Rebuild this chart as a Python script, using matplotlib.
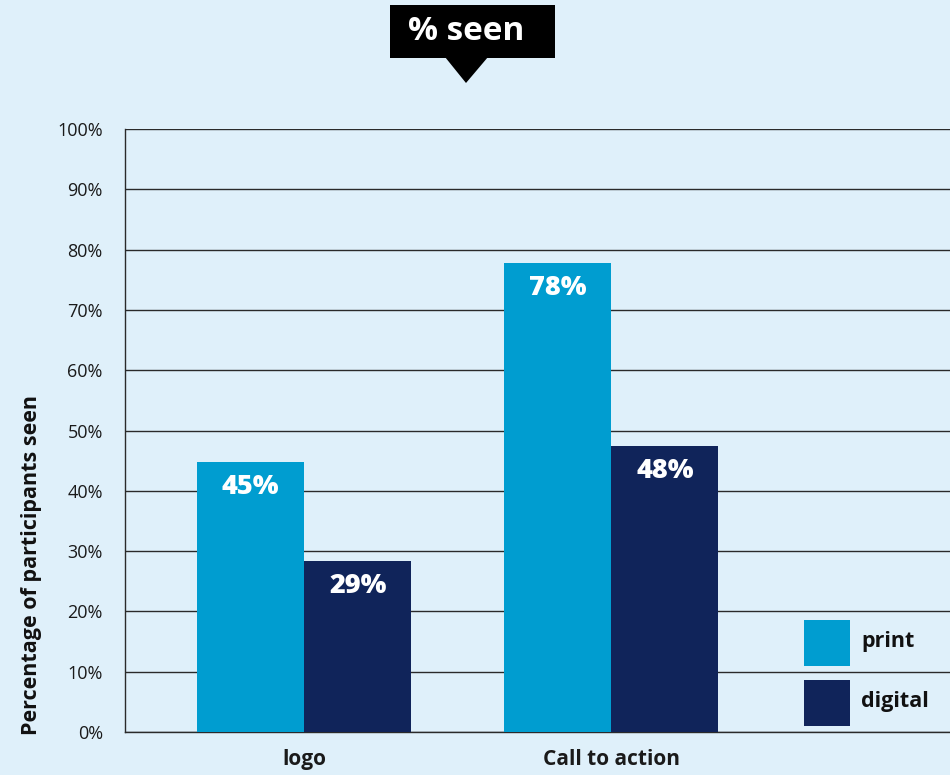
import matplotlib
matplotlib.use("Agg")
import matplotlib.pyplot as plt
from matplotlib.patches import Rectangle, Polygon
import numpy as np

categories = ["logo", "Call to action"]
series_names = ["print", "digital"]
print_vals = [44.8, 77.8]
digital_vals = [28.3, 47.5]
print_labels = ["45%", "78%"]
digital_labels = ["29%", "48%"]
yticks = [0, 10, 20, 30, 40, 50, 60, 70, 80, 90, 100]
ytick_labels = ["0%", "10%", "20%", "30%", "40%", "50%", "60%", "70%", "80%", "90%", "100%"]
title = "% seen"
ylabel = "Percentage of participants seen"

BG = "#dff0fa"
C_PRINT = "#009dd0"
C_DIGITAL = "#10245a"
FONT = ["Open Sans", "DejaVu Sans"]
plt.rcParams["font.family"] = FONT

W, H = 950, 775
fig = plt.figure(figsize=(W / 100, H / 100), dpi=100, facecolor=BG)
ax = fig.add_axes([125 / W, 43 / H, 1 - 125 / W, (732 - 129) / H])
ax.set_facecolor(BG)

x = np.arange(len(categories))
bw = 0.35
b1 = ax.bar(x - bw / 2, print_vals, bw, color=C_PRINT, zorder=3)
b2 = ax.bar(x + bw / 2, digital_vals, bw, color=C_DIGITAL, zorder=3)

for bars, labels in ((b1, print_labels), (b2, digital_labels)):
    for rect, lab in zip(bars, labels):
        ax.annotate(lab, (rect.get_x() + rect.get_width() / 2, rect.get_height()),
                    xytext=(0, -18), textcoords="offset points", ha="center", va="center",
                    color="white", fontsize=19.5, fontweight="heavy", zorder=4)

ax.set_ylim(0, 100)
ax.set_xlim(-0.583, 2.104)
ax.set_yticks(yticks)
ax.set_yticklabels(ytick_labels, fontsize=13, color="#1a1a1a")
ax.set_xticks(x)
ax.set_xticklabels(categories, fontsize=15, fontweight="bold", color="#1a1a1a")
ax.tick_params(axis="y", length=0, pad=16)
ax.tick_params(axis="x", length=0, pad=12)
ax.grid(axis="y", color="#2a2a2a", linewidth=1.0, zorder=1)
for s in ("top", "right"):
    ax.spines[s].set_visible(False)
ax.spines["left"].set_color("#2a2a2a")
ax.spines["bottom"].set_color("#2a2a2a")
ax.spines["left"].set_linewidth(1.0)
ax.spines["bottom"].set_linewidth(1.0)

fig.text(32 / W, 1 - 565 / H, ylabel, rotation=90, ha="center", va="center",
         fontsize=15.5, fontweight="bold", color="#111111")

# title callout
fig.add_artist(Rectangle((390 / W, 1 - 58 / H), 165 / W, 53 / H, transform=fig.transFigure,
                         facecolor="black", edgecolor="none"))
fig.add_artist(Polygon([(445 / W, 1 - 57 / H), (488 / W, 1 - 57 / H), (466 / W, 1 - 83 / H)],
                       closed=True, transform=fig.transFigure, facecolor="black", edgecolor="none"))
fig.text(466 / W, 1 - 32 / H, title, ha="center", va="center", color="white",
         fontsize=24, fontweight="bold")

# legend
for i, (name, col) in enumerate(zip(series_names, [C_PRINT, C_DIGITAL])):
    y0 = 620 + i * 60
    fig.add_artist(Rectangle((804 / W, 1 - (y0 + 46) / H), 46 / W, 46 / H,
                             transform=fig.transFigure, facecolor=col, edgecolor="none"))
    fig.text(861 / W, 1 - (y0 + 22) / H, name, ha="left", va="center",
             fontsize=15.5, fontweight="bold", color="#111111")

fig.savefig("out.png", dpi=100, facecolor=BG)
